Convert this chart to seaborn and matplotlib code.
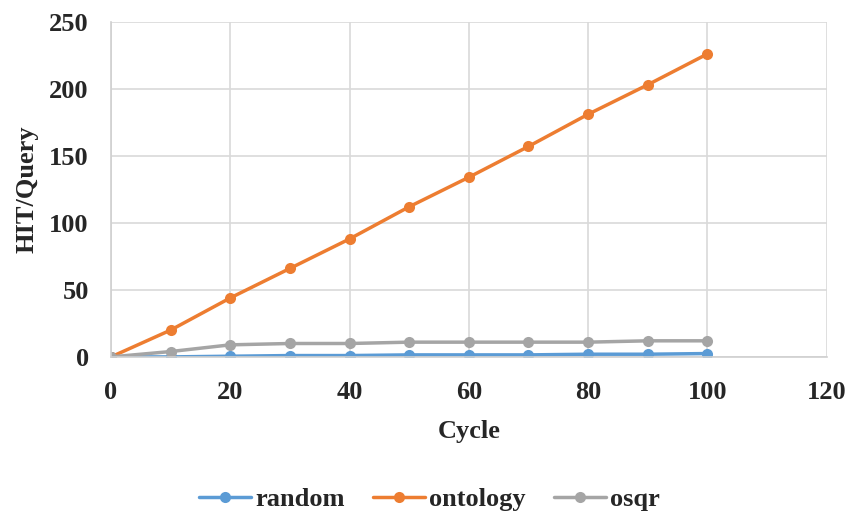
import matplotlib
matplotlib.use("Agg")
import matplotlib.pyplot as plt
import seaborn as sns
import pandas as pd

cycles = [0, 10, 20, 30, 40, 50, 60, 70, 80, 90, 100]
random_hits = [0, 0, 0.5, 1, 1, 1.5, 1.5, 1.5, 2, 2, 2.5]
ontology_hits = [0, 20, 44, 66, 88, 112, 134, 157, 181, 203, 226]
osqr_hits = [0, 4, 9, 10, 10, 11, 11, 11, 11, 12, 12]

series_names = ["random", "ontology", "osqr"]
colors = ["#5B9BD5", "#ED7D31", "#A5A5A5"]

rows = []
for name, vals in zip(series_names, [random_hits, ontology_hits, osqr_hits]):
    for c, v in zip(cycles, vals):
        rows.append({"Cycle": c, "HIT/Query": v, "method": name})
df = pd.DataFrame(rows)

sns.set_theme(style="whitegrid")
plt.rcParams["font.family"] = ["Liberation Serif", "DejaVu Serif"]
plt.rcParams["font.weight"] = "bold"

fig = plt.figure(figsize=(8.54, 5.18), dpi=100)
ax = fig.add_axes([0.130, 0.311, 0.838, 0.647])

sns.lineplot(data=df, x="Cycle", y="HIT/Query", hue="method",
             hue_order=series_names, palette=colors, marker="o",
             markersize=8, markeredgewidth=0, linewidth=2.5, ax=ax,
             legend=False)

ax.set_xlim(0, 120)
ax.set_ylim(0, 250)
ax.set_xticks(range(0, 121, 20))
ax.set_yticks(range(0, 251, 50))
ax.grid(True, color="#D9D9D9", linewidth=1.2)
for side in ["top", "right"]:
    ax.spines[side].set_visible(False)
for side in ["left", "bottom"]:
    ax.spines[side].set_color("#D0D0D0")
    ax.spines[side].set_linewidth(1.2)
ax.tick_params(axis="both", labelsize=19, length=0)
ax.tick_params(axis="x", pad=17)
ax.tick_params(axis="y", pad=16)
for lbl in ax.get_xticklabels() + ax.get_yticklabels():
    lbl.set_fontweight("bold")

ax.set_xlabel("Cycle", fontsize=19, fontweight="bold", labelpad=12)
ax.set_ylabel("HIT/Query", fontsize=19, fontweight="bold", labelpad=8)

handles = [plt.Line2D([], [], color=c, marker="o", markersize=8,
                      markeredgewidth=0, linewidth=2.5) for c in colors]
fig.legend(handles, series_names, loc="center", bbox_to_anchor=(0.503, 0.036),
           ncol=3, frameon=False, prop={"size": 19, "weight": "bold"},
           handlelength=1.95, columnspacing=1.1, handletextpad=0.15)

fig.savefig("out.png", dpi=100)
